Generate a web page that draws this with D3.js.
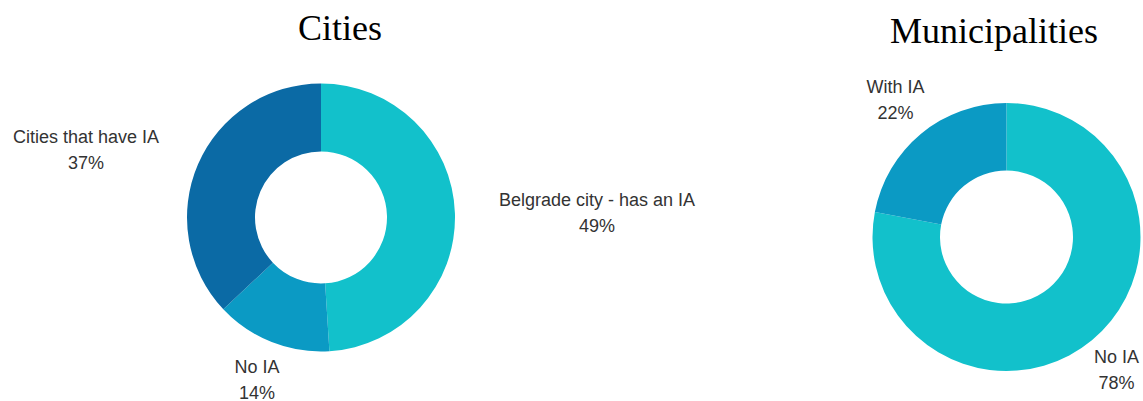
<!DOCTYPE html>
<html>
<head>
<meta charset="utf-8">
<script src="https://cdn.jsdelivr.net/npm/d3@7"></script>
<style>
  html, body { margin: 0; padding: 0; background: #ffffff; }
  svg { display: block; }
</style>
</head>
<body>
<svg id="chart" width="1143" height="401"></svg>
<script>
// Share of cities and municipalities with an internal audit (IA) unit
const cityLabels = ["Belgrade city - has an IA", "No IA", "Cities that have IA"];
const cityValues = [49, 14, 37];
const muniLabels = ["No IA", "With IA"];
const muniValues = [78, 22];

const cityColors = ["#12c1cb", "#0b9ac4", "#0b6aa5"];
const muniColors = ["#12c1cb", "#0b9ac4"];

const svg = d3.select("#chart");

// Donut placement and label offsets (relative to each donut centre)
const charts = [
  {
    title: "Cities", titleX: 340, titleY: 40,
    cx: 321, cy: 217.5, outer: 134, inner: 66,
    labels: cityLabels, values: cityValues, colors: cityColors,
    labelOffsets: [[276, -12], [-64, 155], [-235, -75]]
  },
  {
    title: "Municipalities", titleX: 994, titleY: 43,
    cx: 1006.5, cy: 237, outer: 134, inner: 66.5,
    labels: muniLabels, values: muniValues, colors: muniColors,
    labelOffsets: [[110, 126], [-111, -144]]
  }
];

const pie = d3.pie().sort(null).value(d => d.value);

charts.forEach(c => {
  const data = c.values.map((v, i) => ({ label: c.labels[i], value: v, color: c.colors[i], off: c.labelOffsets[i] }));
  const arc = d3.arc().innerRadius(c.inner).outerRadius(c.outer);

  svg.append("text")
    .attr("x", c.titleX)
    .attr("y", c.titleY)
    .attr("text-anchor", "middle")
    .attr("font-family", "'Liberation Serif', 'Times New Roman', serif")
    .attr("font-size", 36)
    .attr("fill", "#000")
    .text(c.title);

  const g = svg.append("g").attr("transform", `translate(${c.cx},${c.cy})`);

  g.selectAll("path")
    .data(pie(data))
    .join("path")
    .attr("d", arc)
    .attr("fill", d => d.data.color);

  const lbl = g.selectAll("text.lbl")
    .data(pie(data))
    .join("text")
    .attr("class", "lbl")
    .attr("text-anchor", "middle")
    .attr("font-family", "'Liberation Sans', Arial, sans-serif")
    .attr("font-size", 18)
    .attr("fill", "#333");

  lbl.append("tspan")
    .attr("x", d => d.data.off[0])
    .attr("y", d => d.data.off[1])
    .text(d => d.data.label);
  lbl.append("tspan")
    .attr("x", d => d.data.off[0])
    .attr("dy", 26)
    .text(d => d.data.value + "%");
});
</script>
</body>
</html>
